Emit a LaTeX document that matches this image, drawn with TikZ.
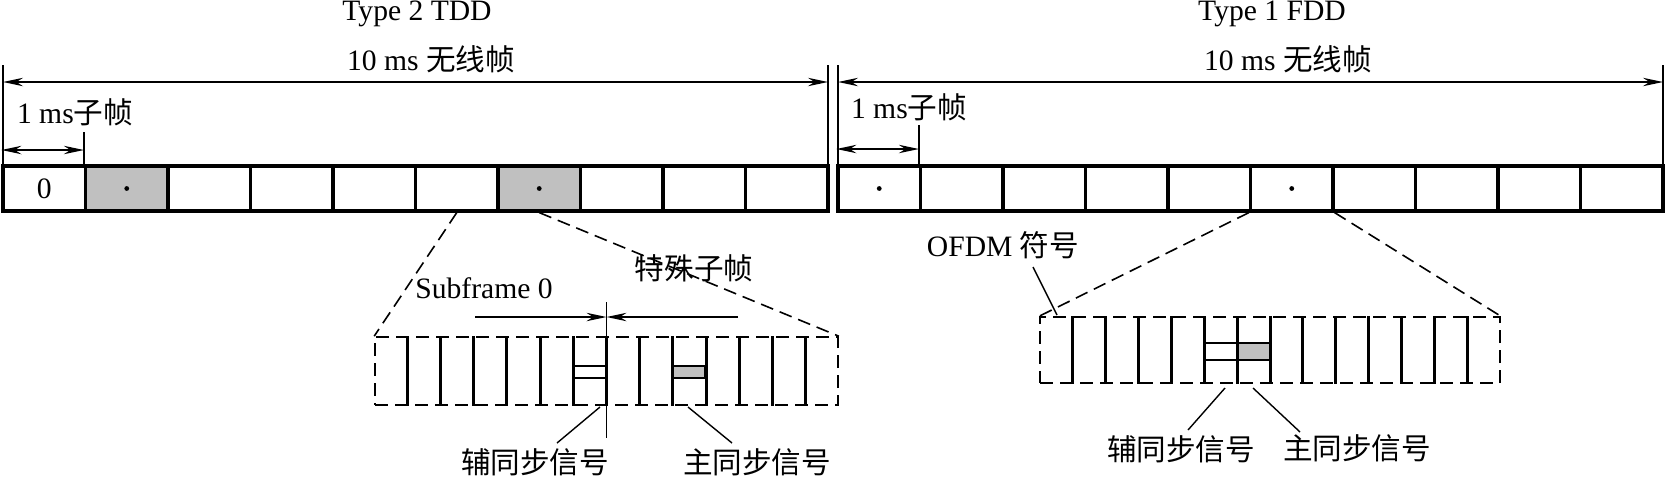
\documentclass[tikz,border=0pt]{standalone}
\usepackage{fontspec}
\setmainfont{Liberation Serif}
\newfontfamily\cjk{Noto Sans CJK SC}
\usetikzlibrary{arrows.meta,calc}
\definecolor{cellgray}{RGB}{192,192,192}
\begin{document}
\begin{tikzpicture}[x=0.5pt,y=-0.5pt,
  font=\fontsize{14.8pt}{17pt}\selectfont,
  cell/.style={draw, line width=1.6pt, minimum width=41.25pt, minimum height=22.5pt, inner sep=0pt},
  tick/.style={line width=0.8pt},
  dimarrow/.style={line width=0.8pt, {Stealth[length=10pt,width=4.2pt]}-{Stealth[length=10pt,width=4.2pt]}},
  onearrow/.style={line width=0.8pt, -{Stealth[length=10pt,width=4.2pt]}},
  dashbox/.style={draw, dash pattern=on 6.5pt off 3.5pt, line width=0.8pt, inner sep=0pt},
  zoomline/.style={dash pattern=on 6.5pt off 3.5pt, line width=0.8pt},
  vline/.style={line width=1.5pt},
  syncline/.style={line width=1.3pt},
  leader/.style={line width=0.7pt},
  lbl/.style={inner sep=0pt},
  dot/.style={circle, fill=black, inner sep=0pt, minimum size=2.4pt}
]
\useasboundingbox (0,0) rectangle (1665,479);

% ---------- left frame (Type 2 TDD) ----------
\foreach \i/\f in {0/white,1/cellgray,2/white,3/white,4/white,5/white,6/cellgray,7/white,8/white,9/white}
  \node[cell, fill=\f] (L\i) at ({3+82.5*\i+41.25},188.5) {};
\node[lbl] at (L0.center) {0};
\node[dot] (L1d) at (L1.center) {};
\node[dot] (L6d) at (L6.center) {};

% ---------- right frame (Type 1 FDD) ----------
\foreach \i in {0,...,9}
  \node[cell] (R\i) at ({838+82.5*\i+41.25},188.5) {};
\node[dot] (R0d) at (R0.center) {};
\node[dot] (R5d) at (R5.center) {};

% ---------- titles ----------
\node[lbl, anchor=base] (t2) at (417,20) {Type 2 TDD};
\node[lbl, anchor=base] (t2f) at (431,70) {10 ms {\cjk 无线帧}};
\node[lbl, anchor=base] (t1) at (1272,20) {Type 1 FDD};
\node[lbl, anchor=base] (t1f) at (1288,70) {10 ms {\cjk 无线帧}};

% ---------- 10 ms dimension arrows ----------
\coordinate (LT1) at (3,65);
\coordinate (LT2) at (828,65);
\coordinate (RT1) at (838,65);
\coordinate (RT2) at (1663,65);
\draw[tick] (LT1) -- (LT1 |- L0.north);
\draw[tick] (LT2) -- (LT2 |- L9.north);
\draw[tick] (RT1) -- (RT1 |- R0.north);
\draw[tick] (RT2) -- (RT2 |- R9.north);
\coordinate (LA1) at (3,82);
\coordinate (LA2) at (828,82);
\coordinate (RA1) at (838,82);
\coordinate (RA2) at (1663,82);
\draw[dimarrow] (LA1) -- (LA2);
\draw[dimarrow] (RA1) -- (RA2);

% ---------- 1 ms subframe arrows ----------
\node[lbl, anchor=base] (l1ms) at (75,123) {1 ms{\cjk 子帧}};
\node[lbl, anchor=base] (r1ms) at (909,118) {1 ms{\cjk 子帧}};
\coordinate (LS0) at (L0.north west |- 0,150);
\coordinate (LS1) at (L1.north west |- 0,150);
\coordinate (LST) at (L1.north west |- 0,132);
\draw[tick] (LST) -- (L1.north west);
\draw[dimarrow] (LS0) -- (LS1);
\coordinate (RS0) at (R0.north west |- 0,149);
\coordinate (RS1) at (R1.north west |- 0,149);
\coordinate (RST) at (R1.north west |- 0,125);
\draw[tick] (RST) -- (R1.north west);
\draw[dimarrow] (RS0) -- (RS1);

% ---------- left zoomed box ----------
\node[dashbox, minimum width=231.5pt, minimum height=34pt] (LZ) at (606.5,371) {};
\draw[zoomline] (L5.south) -- (LZ.north west);
\draw[zoomline] (L6.south) -- (LZ.north east);
\foreach \k in {1,...,13}
  \draw[vline] ($(LZ.north west)!\k/14!(LZ.north east)$) -- ($(LZ.south west)!\k/14!(LZ.south east)$);
\coordinate (Lk6a) at (573.4,366);
\coordinate (Lk7a) at (606.5,366);
\coordinate (Lk6b) at (573.4,378);
\coordinate (Lk7b) at (606.5,378);
\coordinate (Lk9a) at (672.6,366);
\coordinate (Lk10b) at (705.7,378);
% secondary sync (white)
\draw[syncline] (Lk6a) -- (Lk7a);
\draw[syncline] (Lk6b) -- (Lk7b);
% primary sync (gray)
\filldraw[fill=cellgray, syncline] (Lk9a) rectangle (Lk10b);
% long boundary line and arrows
\coordinate (LMt) at (606.5,302);
\coordinate (LMb) at (606.5,438);
\draw[tick] (LMt) -- (LMb);
\coordinate (LAr1) at (475,317);
\coordinate (LAr2) at (738,317);
\coordinate (LAr0) at (606.5,317);
\draw[onearrow] (LAr1) -- (LAr0);
\draw[onearrow] (LAr2) -- (LAr0);
\node[lbl, anchor=base] (sf0) at (484,298) {Subframe 0};
\node[lbl] (spsf) at (694,268) {\cjk 特殊子帧};
\node[lbl] (lsss) at (535,462) {\cjk 辅同步信号};
\node[lbl] (lpss) at (757,462) {\cjk 主同步信号};
\coordinate (lsssA) at (557,443);
\coordinate (lsssB) at (600,407);
\coordinate (lpssA) at (732,443);
\coordinate (lpssB) at (688,407);
\draw[leader] (lsssA) -- (lsssB);
\draw[leader] (lpssA) -- (lpssB);

% ---------- right zoomed box ----------
\node[dashbox, minimum width=230pt, minimum height=33pt] (RZ) at (1270,350) {};
\draw[zoomline] (R5.south west) -- (RZ.north west);
\draw[zoomline] (R5.south east) -- (RZ.north east);
\coordinate (Rk5a) at (1204.3,343);
\coordinate (Rk6a) at (1237.1,343);
\coordinate (Rk5b) at (1204.3,360);
\coordinate (Rk6b) at (1237.1,360);
\coordinate (Rk7b) at (1270,360);
\filldraw[fill=cellgray, syncline] (Rk6a) rectangle (Rk7b);
\draw[syncline] (Rk5a) -- (Rk6a);
\draw[syncline] (Rk5b) -- (Rk6b);
\foreach \k in {1,...,13}
  \draw[vline] ($(RZ.north west)!\k/14!(RZ.north east)$) -- ($(RZ.south west)!\k/14!(RZ.south east)$);
\node[lbl] (ofdm) at (1003,245) {OFDM {\cjk 符号}};
\coordinate (ofdmA) at (1033,267);
\coordinate (ofdmB) at (1057,315);
\draw[leader] (ofdmA) -- (ofdmB);
\node[lbl] (rsss) at (1181,449) {\cjk 辅同步信号};
\node[lbl] (rpss) at (1357,448) {\cjk 主同步信号};
\coordinate (rsssA) at (1188,430);
\coordinate (rsssB) at (1225,388);
\coordinate (rpssA) at (1300,432);
\coordinate (rpssB) at (1253,388);
\draw[leader] (rsssA) -- (rsssB);
\draw[leader] (rpssA) -- (rpssB);
\end{tikzpicture}
\end{document}
